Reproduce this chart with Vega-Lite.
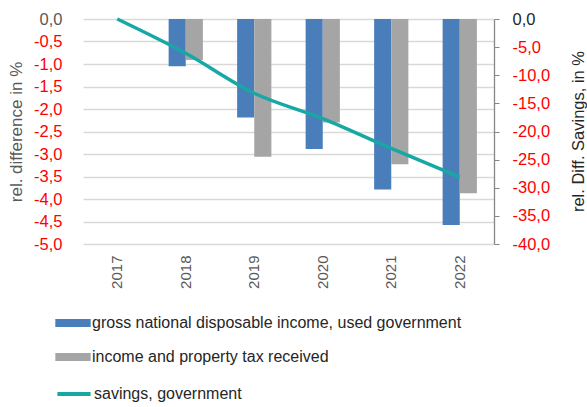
{
  "$schema": "https://vega.github.io/schema/vega-lite/v6.json",
  "width": 411,
  "height": 225,
  "autosize": {"type": "none"},
  "padding": {"left": 83, "top": 19, "right": 93, "bottom": 163},
  "background": "white",
  "config": {
    "font": "Liberation Sans",
    "view": {"stroke": null}
  },
  "datasets": {
    "bars": [
      {"year": "2017", "series": "gross national disposable income, used government", "value": 0},
      {"year": "2017", "series": "income and property tax received", "value": 0},
      {"year": "2018", "series": "gross national disposable income, used government", "value": -1.05},
      {"year": "2018", "series": "income and property tax received", "value": -0.91},
      {"year": "2019", "series": "gross national disposable income, used government", "value": -2.19},
      {"year": "2019", "series": "income and property tax received", "value": -3.06},
      {"year": "2020", "series": "gross national disposable income, used government", "value": -2.89},
      {"year": "2020", "series": "income and property tax received", "value": -2.30},
      {"year": "2021", "series": "gross national disposable income, used government", "value": -3.79},
      {"year": "2021", "series": "income and property tax received", "value": -3.23},
      {"year": "2022", "series": "gross national disposable income, used government", "value": -4.58},
      {"year": "2022", "series": "income and property tax received", "value": -3.87}
    ],
    "line": [
      {"year": "2017", "series": "savings, government", "savings": 0},
      {"year": "2018", "series": "savings, government", "savings": -6.1},
      {"year": "2019", "series": "savings, government", "savings": -13.2},
      {"year": "2020", "series": "savings, government", "savings": -17.7},
      {"year": "2021", "series": "savings, government", "savings": -23.0},
      {"year": "2022", "series": "savings, government", "savings": -28.1}
    ]
  },
  "encoding": {
    "x": {
      "field": "year",
      "type": "nominal",
      "scale": {"paddingInner": 0.5, "paddingOuter": 0.25},
      "axis": {
        "title": null,
        "labelAngle": -90,
        "labelAlign": "right",
        "labelBaseline": "middle",
        "labelColor": "#595959",
        "labelFontSize": 15,
        "labelPadding": 11,
        "domain": false,
        "ticks": false
      }
    }
  },
  "layer": [
    {
      "data": {"name": "bars"},
      "mark": {"type": "bar"},
      "encoding": {
        "xOffset": {"field": "series", "type": "nominal", "scale": {"paddingInner": 0}},
        "y": {
          "field": "value",
          "type": "quantitative",
          "scale": {"domain": [-5, 0], "nice": false},
          "axis": {
            "title": "rel. difference in %",
            "titleColor": "#595959",
            "titleFontSize": 17,
            "titleFontWeight": "normal",
            "titlePadding": 8,
            "values": [0, -0.5, -1, -1.5, -2, -2.5, -3, -3.5, -4, -4.5, -5],
            "labelExpr": "replace(replace(format(datum.value, '.1f'), '.', ','), '\u2212', '-')",
            "labelColor": {"expr": "datum.value < 0 ? '#ff0000' : '#595959'"},
            "labelFontSize": 16.5,
            "labelPadding": 21,
            "domain": false,
            "ticks": false,
            "grid": true,
            "gridColor": "#d9d9d9",
            "gridWidth": 1.3
          }
        },
        "fill": {
          "field": "series",
          "type": "nominal",
          "scale": {
            "domain": ["gross national disposable income, used government", "income and property tax received"],
            "range": ["#4a7ebb", "#a5a5a5"]
          },
          "legend": {
            "title": null,
            "orient": "none",
            "legendX": -28,
            "legendY": 286,
            "direction": "vertical",
            "labelFontSize": 16,
            "labelColor": "#262626",
            "labelLimit": 600,
            "symbolType": "M-1,-0.22H1V0.22H-1Z",
            "symbolSize": 1250,
            "symbolStrokeWidth": 0,
            "rowPadding": 8,
            "labelOffset": 1
          }
        }
      }
    },
    {
      "data": {"name": "line"},
      "mark": {"type": "line", "interpolate": "monotone", "strokeWidth": 3.5},
      "encoding": {
        "y": {
          "field": "savings",
          "type": "quantitative",
          "scale": {"domain": [-40, 0], "nice": false},
          "axis": {
            "orient": "right",
            "title": "rel. Diff. Savings, in %",
            "titleAngle": 270,
            "titleAlign": "center",
            "titleBaseline": "middle",
            "titleX": 84,
            "titleY": 112,
            "titleColor": "#262626",
            "titleFontSize": 16.5,
            "titleFontWeight": "normal",
            "values": [0, -5, -10, -15, -20, -25, -30, -35, -40],
            "labelExpr": "replace(replace(format(datum.value, '.1f'), '.', ','), '\u2212', '-')",
            "labelColor": {"expr": "datum.value < 0 ? '#ff0000' : '#262626'"},
            "labelFontSize": 16.5,
            "labelPadding": 13,
            "domain": true,
            "domainColor": "#868686",
            "domainWidth": 1.3,
            "ticks": true,
            "tickColor": "#868686",
            "tickSize": 5,
            "grid": false
          }
        },
        "stroke": {
          "field": "series",
          "type": "nominal",
          "scale": {"domain": ["savings, government"], "range": ["#17a8a5"]},
          "legend": {
            "title": null,
            "orient": "none",
            "legendX": -28,
            "legendY": 356,
            "labelFontSize": 16,
            "labelColor": "#262626",
            "labelLimit": 600,
            "symbolType": "stroke",
            "symbolSize": 1100,
            "symbolStrokeWidth": 4,
            "labelOffset": 1
          }
        }
      }
    }
  ],
  "resolve": {"scale": {"y": "independent"}}
}
